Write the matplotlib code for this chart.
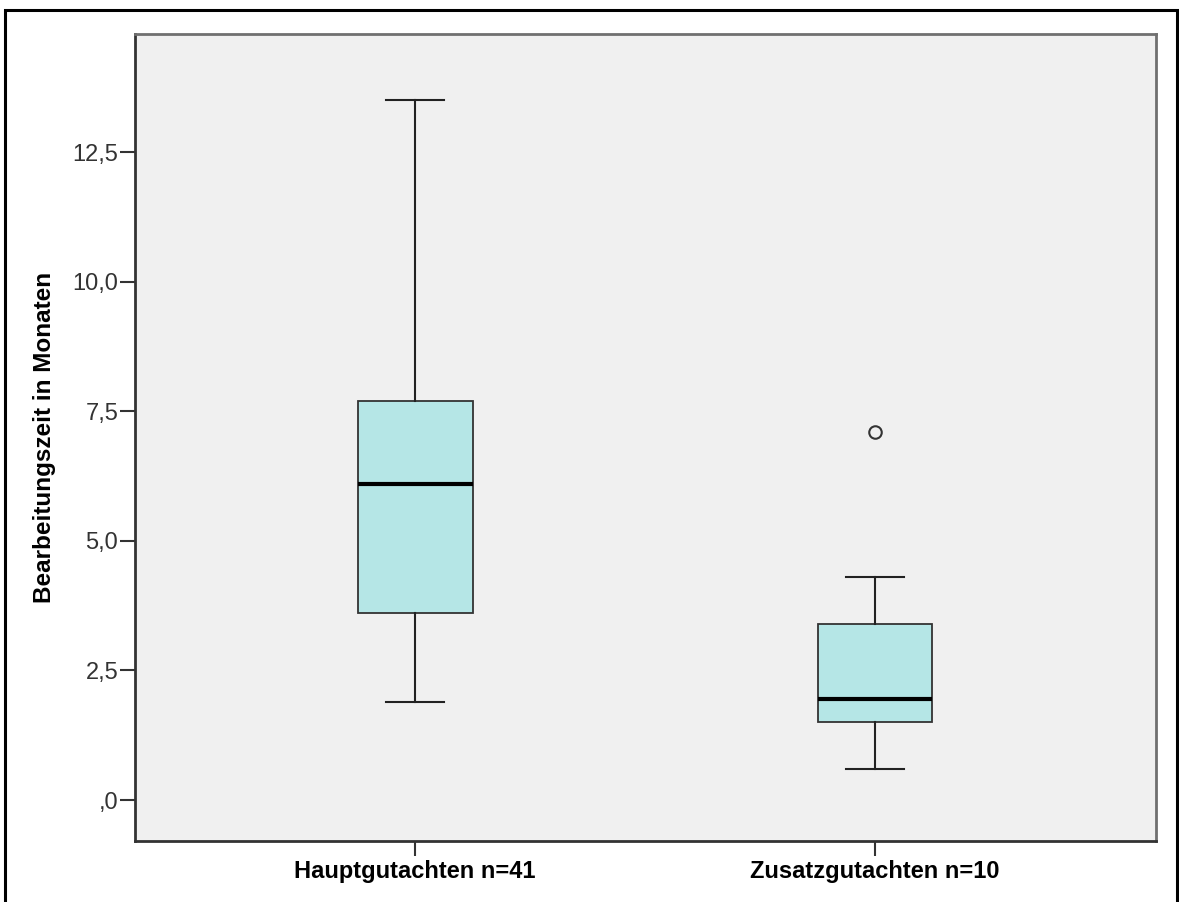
import matplotlib.pyplot as plt
from matplotlib.patches import Rectangle

# Box statistics (months)
groups = ["Hauptgutachten n=41", "Zusatzgutachten n=10"]
whisker_low = [1.9, 0.6]
q1 = [3.6, 1.5]
median = [6.1, 1.95]
q3 = [7.7, 3.4]
whisker_high = [13.5, 4.3]
outliers = [[], [7.1]]

y_ticks = [0, 2.5, 5.0, 7.5, 10.0, 12.5]
y_tick_labels = [",0", "2,5", "5,0", "7,5", "10,0", "12,5"]

plt.rcParams["font.family"] = ["Liberation Sans", "DejaVu Sans"]

fig = plt.figure(figsize=(11.79, 9.02), dpi=100)
ax = fig.add_axes([135 / 1179, 1 - 841 / 902, (1156 - 135) / 1179, (841 - 34) / 902])
ax.set_facecolor("#f0f0f0")

stats = []
for i, name in enumerate(groups):
    stats.append(
        {
            "label": name,
            "whislo": whisker_low[i],
            "q1": q1[i],
            "med": median[i],
            "q3": q3[i],
            "whishi": whisker_high[i],
            "fliers": outliers[i],
        }
    )

ax.bxp(
    stats,
    positions=[1, 2],
    widths=0.25,
    patch_artist=True,
    boxprops=dict(facecolor="#b5e6e6", edgecolor="#333333", linewidth=1.3),
    medianprops=dict(color="black", linewidth=3.0),
    whiskerprops=dict(color="#222222", linewidth=1.5),
    capprops=dict(color="#222222", linewidth=1.5),
    capwidths=0.125,
    flierprops=dict(marker="o", markersize=9, markerfacecolor="none",
                    markeredgecolor="#333333", markeredgewidth=1.5),
)

ax.set_xlim(0.391, 2.611)
ax.set_ylim(-0.79, 14.78)
ax.set_yticks(y_ticks)
ax.set_yticklabels(y_tick_labels, fontsize=17, color="#333333")
ax.set_xticks([1, 2])
ax.set_xticklabels(groups, fontsize=17, fontweight="bold")
ax.tick_params(axis="y", length=11, width=1.5, color="#333333", pad=1)
ax.tick_params(axis="x", length=11, width=1.5, color="#333333", pad=3)
ax.set_ylabel("Bearbeitungszeit in Monaten", fontsize=17.5, fontweight="bold", labelpad=12)

for side in ["left", "bottom"]:
    ax.spines[side].set_color("#333333")
    ax.spines[side].set_linewidth(2)
for side in ["top", "right"]:
    ax.spines[side].set_color("#707070")
    ax.spines[side].set_linewidth(2)

# outer frame around the whole picture
fig.patches.append(
    Rectangle((5 / 1179, -0.01), (1177 - 5) / 1179, 1 - 10 / 902 + 0.01,
              transform=fig.transFigure, fill=False, edgecolor="black", linewidth=2.2)
)

fig.savefig("out.png", dpi=100)
